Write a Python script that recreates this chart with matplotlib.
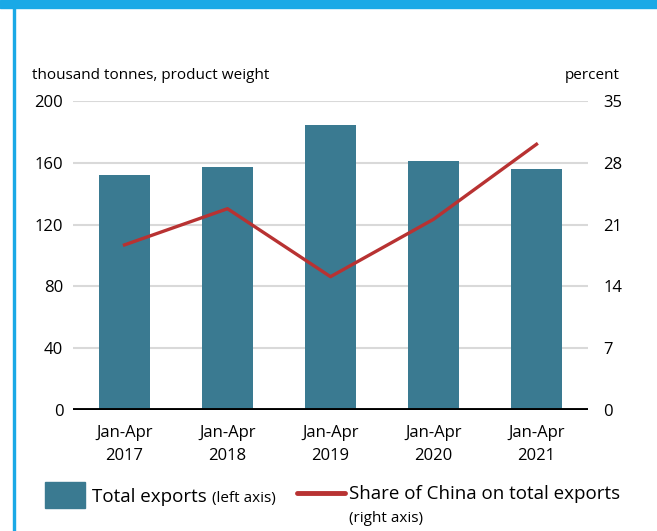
import numpy as np
import matplotlib.pyplot as plt
from matplotlib.patches import Rectangle
from matplotlib.lines import Line2D

plt.rcParams['font.family'] = ['Open Sans', 'DejaVu Sans']

periods = ['Jan-Apr\n2017', 'Jan-Apr\n2018', 'Jan-Apr\n2019', 'Jan-Apr\n2020', 'Jan-Apr\n2021']
total_exports = [152, 157.5, 184.5, 161, 156]       # thousand tonnes
china_share = [18.7, 22.8, 15.1, 21.6, 30.1]         # percent
left_ticks = [0, 40, 80, 120, 160, 200]
right_ticks = [0, 7, 14, 21, 28, 35]

W, H = 657, 531
fig = plt.figure(figsize=(W / 100, H / 100), dpi=100)

# blue frame: thick top band, thin left edge
fig.patches.append(Rectangle((0, (H - 8) / H), 1, 8 / H, transform=fig.transFigure,
                             color='#1aa9e6', zorder=0))
fig.patches.append(Rectangle((13 / W, 0), 2 / W, 1, transform=fig.transFigure,
                             color='#1aa9e6', zorder=0))

ax = fig.add_axes([73 / W, (H - 410) / H, 515 / W, 309 / H])
x = np.arange(len(periods))

ax.bar(x, total_exports, width=0.5, color='#3a7a91', zorder=2)
ax.set_xlim(-0.5, 4.5)
ax.set_ylim(0, 200)
ax.set_yticks(left_ticks)
for t in left_ticks[1:]:
    ax.axhline(t, color='#d9d9d9', lw=1.5, zorder=1)
ax.axhline(0, color='black', lw=2.8, zorder=3)

ax.set_xticks(x)
ax.set_xticklabels(periods, fontsize=12, linespacing=1.55)
ax.tick_params(axis='x', length=0, pad=11)
ax.tick_params(axis='y', length=0, pad=7, labelsize=12)
for s in ax.spines.values():
    s.set_visible(False)

ax2 = ax.twinx()
ax2.plot(x, china_share, color='#b83232', lw=2.4, zorder=4)
ax2.set_ylim(0, 35)
ax2.set_yticks(right_ticks)
ax2.tick_params(axis='y', length=0, pad=11, labelsize=12)
for s in ax2.spines.values():
    s.set_visible(False)

fig.text(32 / W, (H - 79) / H, 'thousand tonnes, product weight', fontsize=11, va='baseline')
fig.text(620 / W, (H - 79) / H, 'percent', fontsize=11, ha='right', va='baseline')

# legend
fig.patches.append(Rectangle((45 / W, (H - 508) / H), 40 / W, 26 / H,
                             transform=fig.transFigure, color='#3a7a91'))
t1 = fig.text(92 / W, (H - 502) / H, 'Total exports ', fontsize=13.5, va='baseline')
fig.canvas.draw()
bb = t1.get_window_extent()
fig.text(bb.x1 / W, (H - 502) / H, '(left axis)', fontsize=11, va='baseline')

fig.lines.append(Line2D([297 / W, 345 / W], [(H - 493) / H] * 2, transform=fig.transFigure,
                        color='#b83232', lw=3.5, solid_capstyle='round'))
fig.text(349 / W, (H - 499) / H, 'Share of China on total exports', fontsize=13.5, va='baseline')
fig.text(349 / W, (H - 522) / H, '(right axis)', fontsize=11, va='baseline')

fig.savefig('out.png', dpi=100)
